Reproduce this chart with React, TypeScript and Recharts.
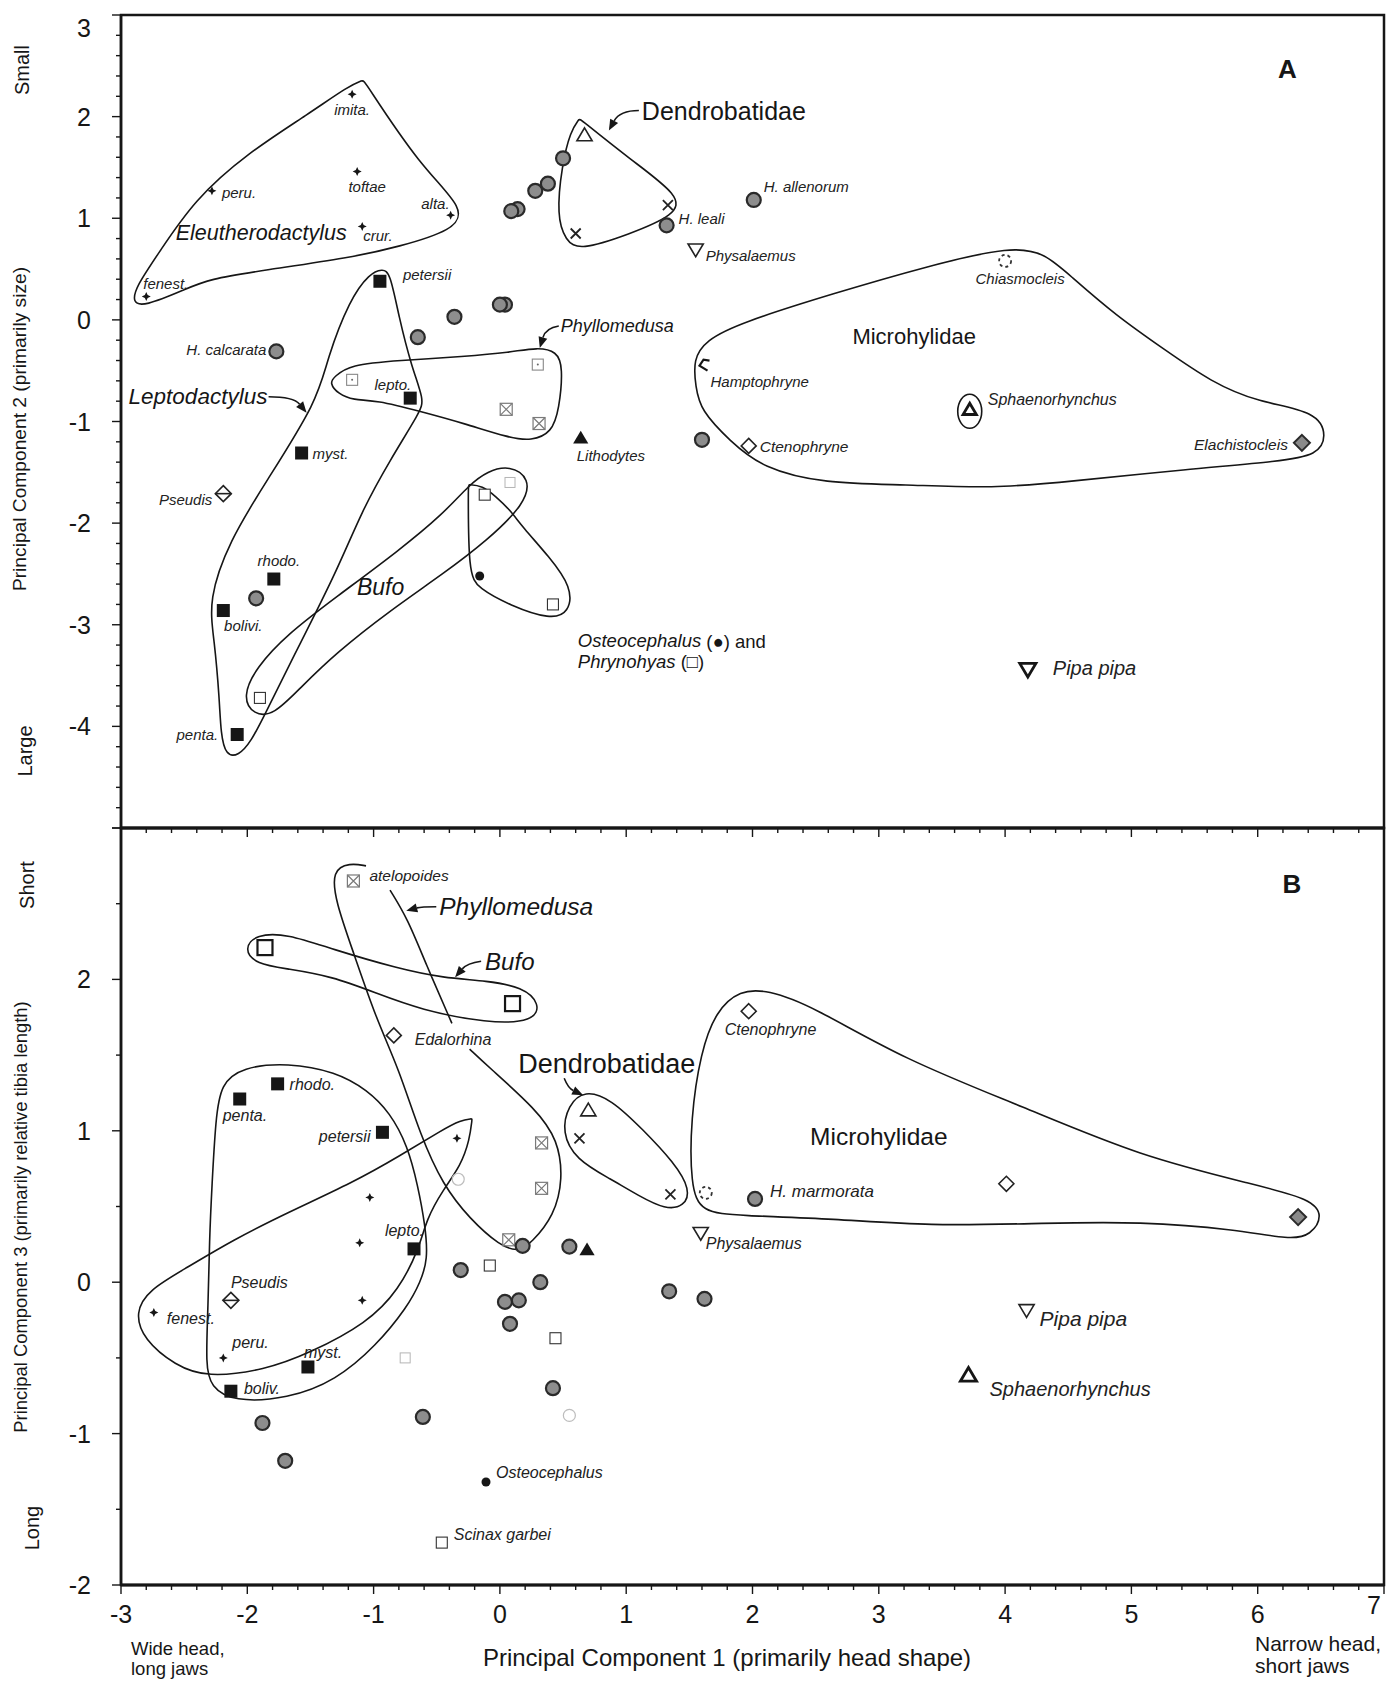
import React from 'react';
import { ScatterChart, Scatter, XAxis, YAxis, ReferenceArea } from 'recharts';

const FONT = '"Liberation Sans", Arial, Helvetica, sans-serif';
const INK = '#161616';

type P = { x: number; y: number; label?: string; kind?: string };
type Note = { x: number; y: number; text: string; tail?: string };
type Place = [number, number, 'start' | 'middle' | 'end', number];
type NoteStyle = [number, boolean, 'start' | 'middle' | 'end', boolean];

const pts = (rows: number[][]): P[] => rows.map(([x, y]) => ({ x, y }));

// ---------- panel A : PC1 vs PC2 ----------
const aEleuth: P[] = [
  { x: -1.17, y: 2.22, label: 'imita.' },
  { x: -2.28, y: 1.27, label: 'peru.' },
  { x: -1.13, y: 1.46, label: 'toftae' },
  { x: -0.39, y: 1.03, label: 'alta.' },
  { x: -1.09, y: 0.92, label: 'crur.' },
  { x: -2.8, y: 0.23, label: 'fenest.' },
];
const aHyla: P[] = [
  { x: 0.5, y: 1.59 }, { x: 0.38, y: 1.34 }, { x: 0.28, y: 1.27 }, { x: 0.14, y: 1.09 },
  { x: 0.09, y: 1.07 }, { x: 0.04, y: 0.15 }, { x: 0.0, y: 0.15 }, { x: -0.36, y: 0.03 },
  { x: -0.65, y: -0.17 }, { x: -1.77, y: -0.31, label: 'H. calcarata' },
  { x: 1.32, y: 0.93, label: 'H. leali' }, { x: 2.01, y: 1.18, label: 'H. allenorum' },
  { x: 1.6, y: -1.18 }, { x: -1.93, y: -2.74 },
];
const aLepto: P[] = [
  { x: -0.95, y: 0.38, label: 'petersii' }, { x: -0.71, y: -0.77, label: 'lepto.' },
  { x: -1.57, y: -1.31, label: 'myst.' }, { x: -1.79, y: -2.55, label: 'rhodo.' },
  { x: -2.19, y: -2.86, label: 'bolivi.' }, { x: -2.08, y: -4.08, label: 'penta.' },
];
const aPhylloX: P[] = [{ x: 0.05, y: -0.88 }, { x: 0.31, y: -1.02 }];
const aPhylloDot: P[] = [{ x: -1.17, y: -0.59 }, { x: 0.3, y: -0.44 }];
const aOpenSq: P[] = [{ x: -0.12, y: -1.72 }, { x: 0.42, y: -2.8 }, { x: -1.9, y: -3.72 }];
const aOsteo: P[] = [{ x: -0.16, y: -2.52 }];
const aDendroTri: P[] = [{ x: 0.67, y: 1.81 }];
const aDendroX: P[] = [{ x: 0.6, y: 0.85 }, { x: 1.33, y: 1.13 }];
const aOther: P[] = [
  { x: 0.08, y: -1.6, kind: 'faintSq' },
  { x: 1.55, y: 0.7, label: 'Physalaemus', kind: 'triDown' },
  { x: 4.0, y: 0.58, label: 'Chiasmocleis', kind: 'dashCircle' },
  { x: 1.62, y: -0.45, label: 'Hamptophryne', kind: 'bracket' },
  { x: 3.72, y: -0.89, label: 'Sphaenorhynchus', kind: 'triRing' },
  { x: 1.97, y: -1.24, label: 'Ctenophryne', kind: 'diamond' },
  { x: 6.35, y: -1.21, label: 'Elachistocleis', kind: 'diamondGray' },
  { x: 0.64, y: -1.17, label: 'Lithodytes', kind: 'triFill' },
  { x: -2.19, y: -1.71, label: 'Pseudis', kind: 'diamondLine' },
  { x: 4.18, y: -3.43, label: 'Pipa pipa', kind: 'triDownBold' },
];

const hullAEleuth = pts([[-1.08, 2.36], [-1.08, 2.36], [-0.63, 1.51], [-0.27, 1.09], [-0.37, 0.88], [-0.8, 0.72], [-1.19, 0.61], [-1.86, 0.49], [-2.31, 0.4], [-2.49, 0.3], [-2.82, 0.13], [-2.91, 0.17], [-2.88, 0.33], [-2.7, 0.66], [-2.42, 1.18], [-2.0, 1.64], [-1.51, 2.03], [-1.2, 2.3]]);
const hullADendro = pts([[0.63, 1.98], [0.63, 1.98], [1.03, 1.58], [1.43, 1.22], [1.39, 1.03], [1.02, 0.84], [0.63, 0.68], [0.52, 0.78], [0.45, 1.02], [0.49, 1.52], [0.56, 1.86]]);
const hullALepto = pts([[-0.93, 0.5], [-0.87, 0.47], [-0.8, 0.03], [-0.7, -0.46], [-0.6, -0.79], [-0.63, -0.9], [-0.87, -1.38], [-1.09, -1.87], [-1.3, -2.5], [-1.65, -3.35], [-1.86, -3.88], [-1.97, -4.15], [-2.07, -4.29], [-2.17, -4.29], [-2.21, -4.07], [-2.22, -3.74], [-2.26, -3.15], [-2.31, -2.76], [-2.14, -2.17], [-1.86, -1.61], [-1.44, -0.79], [-1.37, -0.39], [-1.19, 0.2], [-1.03, 0.46]]);
const hullAPhyllo = pts([[-1.31, -0.56], [-1.19, -0.44], [-0.8, -0.4], [-0.28, -0.36], [0.08, -0.32], [0.3, -0.27], [0.45, -0.31], [0.5, -0.46], [0.47, -0.88], [0.41, -1.11], [0.25, -1.19], [0.07, -1.16], [-0.28, -1.02], [-0.63, -0.9], [-0.98, -0.79], [-1.16, -0.79], [-1.28, -0.73], [-1.35, -0.62]]);
const hullABufo = pts([[0.08, -1.43], [0.24, -1.56], [0.2, -1.81], [-0.1, -2.17], [-0.45, -2.5], [-0.87, -2.86], [-1.3, -3.28], [-1.58, -3.62], [-1.79, -3.89], [-1.95, -3.89], [-2.04, -3.71], [-1.93, -3.42], [-1.68, -3.09], [-1.3, -2.73], [-0.8, -2.27], [-0.45, -1.91], [-0.24, -1.62], [-0.1, -1.49]]);
const hullAOsteo = pts([[-0.25, -1.62], [-0.25, -1.62], [-0.25, -2.5], [-0.17, -2.64], [0.08, -2.81], [0.4, -2.95], [0.55, -2.88], [0.57, -2.63], [0.39, -2.33], [0.18, -2.04], [0.08, -1.87], [-0.03, -1.74], [-0.14, -1.63]]);
const hullAMicro = pts([[4.06, 0.73], [3.39, 0.53], [2.64, 0.26], [1.9, -0.03], [1.63, -0.2], [1.53, -0.39], [1.55, -0.66], [1.59, -0.89], [1.82, -1.19], [2.08, -1.46], [2.57, -1.61], [3.2, -1.62], [3.91, -1.66], [4.51, -1.59], [5.44, -1.47], [6.19, -1.39], [6.47, -1.33], [6.55, -1.15], [6.47, -0.9], [6.0, -0.81], [5.63, -0.61], [5.26, -0.29], [4.88, 0.04], [4.51, 0.44], [4.32, 0.65]]);
const hullsA = [hullAEleuth, hullADendro, hullALepto, hullAPhyllo, hullABufo, hullAOsteo, hullAMicro];

const notesA: Note[] = [
  { x: 6.235, y: 2.47, text: 'A' },
  { x: -1.89, y: 0.85, text: 'Eleutherodactylus' },
  { x: 1.124, y: 2.06, text: 'Dendrobatidae' },
  { x: 0.482, y: -0.06, text: 'Phyllomedusa' },
  { x: 3.28, y: -0.165, text: 'Microhylidae' },
  { x: -2.94, y: -0.756, text: 'Leptodactylus' },
  { x: -0.945, y: -2.627, text: 'Bufo' },
  { x: 0.617, y: -3.155, text: 'Osteocephalus', tail: ' (\u25CF) and' },
  { x: 0.617, y: -3.36, text: 'Phrynohyas', tail: ' (\u25A1)' },
];

// ---------- panel B : PC1 vs PC3 ----------
const bEleuth: P[] = [
  { x: -0.34, y: 0.95 }, { x: -1.03, y: 0.56 }, { x: -1.11, y: 0.26 }, { x: -1.09, y: -0.12 },
  { x: -2.74, y: -0.2, label: 'fenest.' }, { x: -2.19, y: -0.5, label: 'peru.' },
];
const bHyla: P[] = [
  { x: 2.02, y: 0.55, label: 'H. marmorata' }, { x: 0.18, y: 0.24 }, { x: 0.55, y: 0.235 },
  { x: -0.31, y: 0.08 }, { x: 0.32, y: 0.0 }, { x: 0.04, y: -0.13 }, { x: 0.15, y: -0.12 },
  { x: 0.08, y: -0.275 }, { x: 0.42, y: -0.7 }, { x: -0.61, y: -0.89 }, { x: -1.88, y: -0.93 },
  { x: -1.7, y: -1.18 }, { x: 1.34, y: -0.06 }, { x: 1.62, y: -0.11 },
];
const bLepto: P[] = [
  { x: -1.76, y: 1.31, label: 'rhodo.' }, { x: -2.06, y: 1.21, label: 'penta.' },
  { x: -0.93, y: 0.99, label: 'petersii' }, { x: -0.68, y: 0.22, label: 'lepto.' },
  { x: -1.52, y: -0.56, label: 'myst.' }, { x: -2.13, y: -0.72, label: 'boliv.' },
];
const bPhylloX: P[] = [
  { x: -1.16, y: 2.65, label: 'atelopoides' }, { x: 0.33, y: 0.92 }, { x: 0.33, y: 0.62 }, { x: 0.07, y: 0.28 },
];
const bBufoSq: P[] = [{ x: -1.86, y: 2.21 }, { x: 0.1, y: 1.84 }];
const bOpenSq: P[] = [{ x: -0.08, y: 0.11 }, { x: 0.44, y: -0.37 }, { x: -0.46, y: -1.72, label: 'Scinax garbei' }];
const bOsteo: P[] = [{ x: -0.11, y: -1.32, label: 'Osteocephalus' }];
const bDendroTri: P[] = [{ x: 0.7, y: 1.13 }];
const bDendroX: P[] = [{ x: 0.63, y: 0.95 }, { x: 1.35, y: 0.58 }];
const bOther: P[] = [
  { x: -0.33, y: 0.68, kind: 'faintCircle' },
  { x: 0.55, y: -0.88, kind: 'faintCircle' },
  { x: -0.75, y: -0.5, kind: 'faintSq' },
  { x: -0.84, y: 1.63, label: 'Edalorhina', kind: 'diamond' },
  { x: 1.97, y: 1.79, label: 'Ctenophryne', kind: 'diamond' },
  { x: 4.01, y: 0.65, kind: 'diamond' },
  { x: 6.32, y: 0.43, kind: 'diamondGray' },
  { x: 1.63, y: 0.59, kind: 'dashCircle' },
  { x: 1.59, y: 0.33, label: 'Physalaemus', kind: 'triDown' },
  { x: 4.17, y: -0.18, label: 'Pipa pipa', kind: 'triDown' },
  { x: 3.71, y: -0.62, label: 'Sphaenorhynchus', kind: 'triBold' },
  { x: -2.13, y: -0.12, label: 'Pseudis', kind: 'diamondLine' },
  { x: 0.69, y: 0.21, kind: 'triFill' },
];

const hullBBufo = pts([[-1.93, 2.3], [-1.68, 2.3], [-1.33, 2.2], [-0.8, 2.07], [-0.45, 2.01], [-0.1, 1.99], [0.18, 1.95], [0.32, 1.84], [0.27, 1.72], [-0.1, 1.71], [-0.63, 1.8], [-0.98, 1.91], [-1.33, 2.02], [-1.68, 2.07], [-1.93, 2.1], [-2.03, 2.2]]);
const hullBDendro = pts([[0.67, 1.27], [0.88, 1.21], [1.13, 1.01], [1.38, 0.79], [1.51, 0.61], [1.46, 0.5], [1.31, 0.48], [1.1, 0.57], [0.88, 0.68], [0.6, 0.81], [0.49, 0.99], [0.54, 1.17]]);
const hullBMicro = pts([[1.9, 1.93], [2.12, 1.93], [2.46, 1.83], [3.2, 1.47], [4.14, 1.16], [5.07, 0.83], [6.0, 0.64], [6.42, 0.55], [6.52, 0.44], [6.42, 0.31], [6.26, 0.28], [5.82, 0.35], [5.07, 0.4], [4.32, 0.39], [3.39, 0.37], [2.64, 0.42], [1.9, 0.44], [1.59, 0.46], [1.51, 0.64], [1.51, 1.08], [1.59, 1.52], [1.71, 1.79]]);
const hullBLepto = pts([[-2.25, 1.08], [-2.21, 1.31], [-2.04, 1.42], [-1.68, 1.45], [-1.3, 1.39], [-1.05, 1.27], [-0.87, 1.12], [-0.73, 0.9], [-0.65, 0.64], [-0.59, 0.37], [-0.57, 0.15], [-0.63, 0.0], [-0.73, -0.16], [-0.98, -0.42], [-1.3, -0.65], [-1.68, -0.77], [-2.11, -0.79], [-2.29, -0.69], [-2.33, -0.55], [-2.31, -0.16], [-2.3, 0.28], [-2.28, 0.64]]);
const hullBEleuth = pts([[-0.22, 1.08], [-0.22, 1.08], [-0.24, 0.94], [-0.31, 0.77], [-0.45, 0.61], [-0.58, 0.42], [-0.64, 0.22], [-0.8, -0.05], [-1.05, -0.27], [-1.51, -0.47], [-1.86, -0.58], [-2.32, -0.63], [-2.57, -0.55], [-2.82, -0.38], [-2.89, -0.2], [-2.78, -0.05], [-2.49, 0.09], [-2.11, 0.28], [-1.68, 0.46], [-1.16, 0.66], [-0.8, 0.83], [-0.45, 1.01], [-0.31, 1.07]]);
const hullsB = [hullBBufo, hullBDendro, hullBMicro, hullBLepto, hullBEleuth];
// Phyllomedusa outline in B is open (label gaps)
const phylloBLeft = pts([[-1.06, 2.75], [-1.19, 2.77], [-1.33, 2.72], [-1.3, 2.51], [-1.16, 2.18], [-0.98, 1.74], [-0.8, 1.41], [-0.63, 0.97], [-0.45, 0.64], [-0.24, 0.42], [0.0, 0.24], [0.15, 0.2], [0.25, 0.26], [0.43, 0.44], [0.5, 0.68], [0.46, 0.94], [0.29, 1.14], [-0.1, 1.43], [-0.24, 1.54]]);
const phylloBRight = pts([[-0.38, 1.71], [-0.59, 2.11], [-0.73, 2.4], [-0.87, 2.59]]);

const notesB: Note[] = [
  { x: 6.27, y: 2.63, text: 'B' },
  { x: -0.48, y: 2.48, text: 'Phyllomedusa' },
  { x: -0.117, y: 2.12, text: 'Bufo' },
  { x: 0.145, y: 1.44, text: 'Dendrobatidae' },
  { x: 3.0, y: 0.965, text: 'Microhylidae' },
];

// axis ticks
const xTicks = Array.from({ length: 51 }, (_, i) => Math.round((-3 + i * 0.2) * 10) / 10);
const yTicksA = Array.from({ length: 41 }, (_, i) => Math.round((-5 + i * 0.2) * 10) / 10);
const yTicksB = Array.from({ length: 11 }, (_, i) => -2 + i * 0.5);
const yLabelsA = [-4, -3, -2, -1, 0, 1, 2, 3];
const yLabelsB = [-2, -1, 0, 1, 2];

// ---------- label placement (px offsets from the mark) ----------
const placeA: Record<string, Place> = {
  'imita.': [0, 15, 'middle', 15], 'peru.': [10, 2, 'start', 15], toftae: [10, 15, 'middle', 15],
  'alta.': [-1, -12, 'end', 15], 'crur.': [1, 9, 'start', 15], 'fenest.': [-3, -13, 'start', 15],
  petersii: [23, -7, 'start', 15], 'lepto.': [1, -14, 'end', 15], 'myst.': [11, 0, 'start', 15],
  Pseudis: [-11, 6, 'end', 15], 'rhodo.': [5, -19, 'middle', 15], 'bolivi.': [20, 15, 'middle', 15],
  'penta.': [-19, 0, 'end', 15], 'H. calcarata': [-10, -2, 'end', 15], 'H. leali': [12, -7, 'start', 15],
  'H. allenorum': [10, -13, 'start', 15], Physalaemus: [10, 7, 'start', 15], Chiasmocleis: [15, 18, 'middle', 15],
  Hamptophryne: [6, 16, 'start', 15], Sphaenorhynchus: [18, -11, 'start', 16], Ctenophryne: [11, 1, 'start', 15.5],
  Elachistocleis: [-14, 2, 'end', 15.5], Lithodytes: [-4, 17, 'start', 15], 'Pipa pipa': [25, 0, 'start', 20],
};
const placeB: Record<string, Place> = {
  atelopoides: [16, -5, 'start', 15.5], Edalorhina: [21, 4, 'start', 16], 'rhodo.': [12, 1, 'start', 16],
  'penta.': [-17, 16, 'start', 16], petersii: [-12, 4, 'end', 16], 'lepto.': [10, -18, 'end', 16],
  Pseudis: [0, -18, 'start', 16], 'fenest.': [13, 6, 'start', 16], 'peru.': [9, -15, 'start', 16],
  'myst.': [-4, -14, 'start', 16], 'boliv.': [13, -3, 'start', 16], Ctenophryne: [-24, 18, 'start', 16],
  'H. marmorata': [15, -7, 'start', 17], Physalaemus: [5, 11, 'start', 16], 'Pipa pipa': [13, 9, 'start', 21],
  Sphaenorhynchus: [21, 13, 'start', 20], Osteocephalus: [10, -10, 'start', 16], 'Scinax garbei': [12, -8, 'start', 16],
};

// group label styles: [fontSize, italic, anchor, bold]
const noteStyleA: Record<string, NoteStyle> = {
  A: [26, false, 'middle', true],
  Eleutherodactylus: [21.5, true, 'middle', false], Dendrobatidae: [25, false, 'start', false],
  Phyllomedusa: [18, true, 'start', false], Microhylidae: [22, false, 'middle', false],
  Leptodactylus: [22.5, true, 'start', false], Bufo: [23, true, 'middle', false],
  Osteocephalus: [18.5, true, 'start', false], Phrynohyas: [18.5, true, 'start', false],
};
const noteStyleB: Record<string, NoteStyle> = {
  B: [26, false, 'middle', true],
  Dendrobatidae: [27, false, 'start', false], Phyllomedusa: [24.5, true, 'start', false],
  Microhylidae: [24.5, false, 'middle', false], Bufo: [24, true, 'start', false],
};
// arrows: start, control, tip (px from the label anchor)
const arrowsA: Record<string, number[]> = {
  Dendrobatidae: [-3, 0, -22, 0, -33, 20],
  Phyllomedusa: [-2, 0, -15, 2, -21, 22],
  Leptodactylus: [140, 0, 165, 0, 178, 16],
};
const arrowsB: Record<string, number[]> = {
  Phyllomedusa: [-3, 0, -18, 0, -33, 4],
  Bufo: [-4, 0, -18, 2, -30, 16],
  Dendrobatidae: [46, 14, 50, 24, 65, 31],
};

function Mark({ kind, cx, cy }: { kind: string; cx: number; cy: number }) {
  const tri = (s: number, up: boolean) =>
    up
      ? `M${cx},${cy - s} L${cx + s * 0.95},${cy + s * 0.6} L${cx - s * 0.95},${cy + s * 0.6} Z`
      : `M${cx},${cy + s} L${cx + s * 0.95},${cy - s * 0.6} L${cx - s * 0.95},${cy - s * 0.6} Z`;
  const dia = (s: number) => `M${cx},${cy - s} L${cx + s},${cy} L${cx},${cy + s} L${cx - s},${cy} Z`;
  switch (kind) {
    case 'star':
      return (
        <path
          d={`M${cx},${cy - 4.5} L${cx + 1.4},${cy - 1.4} L${cx + 4.5},${cy} L${cx + 1.4},${cy + 1.4} L${cx},${cy + 4.5} L${cx - 1.4},${cy + 1.4} L${cx - 4.5},${cy} L${cx - 1.4},${cy - 1.4} Z`}
          fill={INK}
        />
      );
    case 'hyla':
      return <circle cx={cx} cy={cy} r={7} fill="#8d8d8d" stroke="#2a2a2a" strokeWidth={2.2} />;
    case 'lepto':
      return <rect x={cx - 6.5} y={cy - 6.5} width={13} height={13} fill={INK} />;
    case 'boxX':
      return (
        <g stroke="#7a7a7a" strokeWidth={1.2} fill="none">
          <rect x={cx - 6} y={cy - 6} width={12} height={12} />
          <path d={`M${cx - 6},${cy - 6} L${cx + 6},${cy + 6} M${cx + 6},${cy - 6} L${cx - 6},${cy + 6}`} />
        </g>
      );
    case 'boxDot':
      return (
        <g>
          <rect x={cx - 5.5} y={cy - 5.5} width={11} height={11} fill="none" stroke="#888" strokeWidth={1.1} />
          <circle cx={cx} cy={cy} r={1} fill="#666" />
        </g>
      );
    case 'openSq':
      return <rect x={cx - 5.5} y={cy - 5.5} width={11} height={11} fill="#fff" stroke="#333" strokeWidth={1.1} />;
    case 'bufoSq':
      return <rect x={cx - 7.5} y={cy - 7.5} width={15} height={15} fill="#fff" stroke={INK} strokeWidth={2.2} />;
    case 'faintSq':
      return <rect x={cx - 5} y={cy - 5} width={10} height={10} fill="none" stroke="#b5b5b5" strokeWidth={1} />;
    case 'faintCircle':
      return <circle cx={cx} cy={cy} r={6} fill="none" stroke="#bdbdbd" strokeWidth={1.2} />;
    case 'tri':
      return <path d={tri(8, true)} fill="#fff" stroke="#222" strokeWidth={1.6} />;
    case 'triBold':
      return <path d={tri(8.5, true)} fill="#fff" stroke={INK} strokeWidth={2.8} />;
    case 'triRing':
      return (
        <g>
          <ellipse cx={cx} cy={cy + 1} rx={12} ry={17} fill="none" stroke={INK} strokeWidth={1.6} />
          <path d={tri(7, true)} fill="#fff" stroke={INK} strokeWidth={2.8} />
        </g>
      );
    case 'triDown':
      return <path d={tri(8, false)} fill="#fff" stroke="#222" strokeWidth={1.6} />;
    case 'triDownBold':
      return <path d={tri(8.5, false)} fill="#fff" stroke={INK} strokeWidth={2.8} />;
    case 'triFill':
      return <path d={tri(8, true)} fill={INK} />;
    case 'x':
      return (
        <path
          d={`M${cx - 5},${cy - 5} L${cx + 5},${cy + 5} M${cx + 5},${cy - 5} L${cx - 5},${cy + 5}`}
          stroke="#222"
          strokeWidth={1.8}
        />
      );
    case 'diamond':
      return <path d={dia(7.5)} fill="#fff" stroke="#222" strokeWidth={1.6} />;
    case 'diamondGray':
      return <path d={dia(8)} fill="#8a8a8a" stroke="#2a2a2a" strokeWidth={2} />;
    case 'diamondLine':
      return (
        <g stroke="#222" strokeWidth={1.6}>
          <path d={dia(8)} fill="#fff" />
          <path d={`M${cx - 8},${cy} L${cx + 8},${cy}`} />
        </g>
      );
    case 'dashCircle':
      return <circle cx={cx} cy={cy} r={6} fill="none" stroke="#333" strokeWidth={1.8} strokeDasharray="3 3" />;
    case 'bracket':
      return (
        <path
          d={`M${cx + 5},${cy - 5} L${cx - 1},${cy - 6} L${cx - 5},${cy} L${cx + 3},${cy + 5}`}
          fill="none"
          stroke={INK}
          strokeWidth={2.2}
        />
      );
    case 'dot':
      return <circle cx={cx} cy={cy} r={4.5} fill={INK} />;
    default:
      return <g />;
  }
}

const markShape = (kind: string, place: Record<string, Place>) => (props: any) => {
  const { cx, cy, payload } = props;
  const lab: string | undefined = payload?.label;
  const pl = lab ? place[lab] : undefined;
  return (
    <g>
      <Mark kind={payload?.kind ?? kind} cx={cx} cy={cy} />
      {lab && pl && (
        <text
          x={cx + pl[0]}
          y={cy + pl[1]}
          textAnchor={pl[2]}
          dominantBaseline="central"
          fontSize={pl[3]}
          fontStyle="italic"
          fontFamily={FONT}
          fill="#222"
        >
          {lab}
        </text>
      )}
    </g>
  );
};

const noteShape = (styles: Record<string, NoteStyle>, arrows: Record<string, number[]>) => (props: any) => {
  const { cx, cy, payload } = props;
  const st = styles[payload.text] ?? [18, false, 'start', false];
  const a = arrows[payload.text];
  let arrow = null;
  if (a) {
    const [sx, sy, qx, qy, tx, ty] = a;
    const dx = tx - qx;
    const dy = ty - qy;
    const len = Math.hypot(dx, dy) || 1;
    const ux = dx / len;
    const uy = dy / len;
    const bx = cx + tx - ux * 11;
    const by = cy + ty - uy * 11;
    arrow = (
      <g>
        <path
          d={`M${cx + sx},${cy + sy} Q${cx + qx},${cy + qy} ${bx},${by}`}
          fill="none"
          stroke={INK}
          strokeWidth={1.6}
        />
        <path
          d={`M${cx + tx},${cy + ty} L${bx - uy * 4.5},${by + ux * 4.5} L${bx + uy * 4.5},${by - ux * 4.5} Z`}
          fill={INK}
        />
      </g>
    );
  }
  return (
    <g>
      <text
        x={cx}
        y={cy}
        fontSize={st[0]}
        fontStyle={st[1] ? 'italic' : 'normal'}
        fontWeight={st[3] ? 'bold' : 'normal'}
        textAnchor={st[2]}
        dominantBaseline="central"
        fontFamily={FONT}
        fill={INK}
      >
        {payload.text}
        {payload.tail && <tspan fontStyle="normal">{payload.tail}</tspan>}
      </text>
      {arrow}
    </g>
  );
};

const emptyShape = () => <g />;

const makeYTick = (labels: number[], topShift: number) => (p: any) => {
  const v = Math.round(p.payload.value * 10) / 10;
  const major = Number.isInteger(v);
  return (
    <g>
      <line x1={p.x} x2={p.x - (major ? 9 : 5)} y1={p.y} y2={p.y} stroke={INK} strokeWidth={1.4} />
      {labels.includes(v) && (
        <text
          x={p.x - 30}
          y={p.y + (v === 3 ? topShift : 0)}
          textAnchor="end"
          dominantBaseline="central"
          fontSize={25}
          fontFamily={FONT}
          fill={INK}
        >
          {v}
        </text>
      )}
    </g>
  );
};

const makeXTick = (withLabels: boolean) => (p: any) => {
  const v = Math.round(p.payload.value * 10) / 10;
  const major = Number.isInteger(v);
  return (
    <g>
      <line x1={p.x} x2={p.x} y1={p.y} y2={p.y + (major ? 9 : 5)} stroke={INK} strokeWidth={1.4} />
      {withLabels && major && (
        <text
          x={p.x + (v === 7 ? -10 : 0)}
          y={p.y + (v === 7 ? 20 : 29)}
          textAnchor="middle"
          dominantBaseline="central"
          fontSize={25}
          fontFamily={FONT}
          fill={INK}
        >
          {v}
        </text>
      )}
    </g>
  );
};

function Panel({
  width, height, margin, yDomain, yTicks, yLabels, topShift, xLabels, xHeight,
  hulls, openLines, series, notes, noteStyles, arrows, place,
}: {
  width: number; height: number; margin: any; yDomain: number[]; yTicks: number[]; yLabels: number[];
  topShift: number; xLabels: boolean; xHeight: number; hulls: P[][]; openLines: P[][];
  series: { data: P[]; kind: string }[]; notes: Note[]; noteStyles: Record<string, NoteStyle>;
  arrows: Record<string, number[]>; place: Record<string, Place>;
}) {
  return (
    <ScatterChart width={width} height={height} margin={margin}>
      <XAxis
        type="number"
        dataKey="x"
        domain={[-3, 7]}
        ticks={xTicks}
        interval={0}
        tickSize={0}
        tickMargin={0}
        tickLine={false}
        height={xHeight}
        axisLine={{ stroke: INK, strokeWidth: 3 }}
        tick={makeXTick(xLabels)}
      />
      <YAxis
        type="number"
        dataKey="y"
        domain={yDomain}
        ticks={yTicks}
        interval={0}
        tickSize={0}
        tickMargin={0}
        tickLine={false}
        width={121}
        axisLine={{ stroke: INK, strokeWidth: 2.5 }}
        tick={makeYTick(yLabels, topShift)}
      />
      <ReferenceArea
        x1={-3}
        x2={7}
        y1={yDomain[0]}
        y2={yDomain[1]}
        fill="none"
        fillOpacity={0}
        stroke={INK}
        strokeWidth={2.5}
      />
      {hulls.map((h, i) => (
        <Scatter
          key={'h' + i}
          data={h}
          fill="none"
          line={{ stroke: INK, strokeWidth: 1.6, fill: 'none' }}
          lineJointType="basisClosed"
          shape={emptyShape}
          isAnimationActive={false}
        />
      ))}
      {openLines.map((h, i) => (
        <Scatter
          key={'o' + i}
          data={h}
          fill="none"
          line={{ stroke: INK, strokeWidth: 1.6, fill: 'none' }}
          lineJointType="basis"
          shape={emptyShape}
          isAnimationActive={false}
        />
      ))}
      {series.map((s, i) => (
        <Scatter key={'s' + i} data={s.data} shape={markShape(s.kind, place)} isAnimationActive={false} />
      ))}
      <Scatter data={notes} shape={noteShape(noteStyles, arrows)} isAnimationActive={false} />
    </ScatterChart>
  );
}

export default function App() {
  const seriesA = [
    { data: aPhylloX, kind: 'boxX' },
    { data: aPhylloDot, kind: 'boxDot' },
    { data: aOpenSq, kind: 'openSq' },
    { data: aOsteo, kind: 'dot' },
    { data: aHyla, kind: 'hyla' },
    { data: aLepto, kind: 'lepto' },
    { data: aEleuth, kind: 'star' },
    { data: aDendroTri, kind: 'tri' },
    { data: aDendroX, kind: 'x' },
    { data: aOther, kind: '' },
  ];
  const seriesB = [
    { data: bPhylloX, kind: 'boxX' },
    { data: bOpenSq, kind: 'openSq' },
    { data: bBufoSq, kind: 'bufoSq' },
    { data: bOsteo, kind: 'dot' },
    { data: bHyla, kind: 'hyla' },
    { data: bLepto, kind: 'lepto' },
    { data: bEleuth, kind: 'star' },
    { data: bDendroTri, kind: 'tri' },
    { data: bDendroX, kind: 'x' },
    { data: bOther, kind: '' },
  ];
  const txt = { fontFamily: FONT, fill: INK } as const;
  return (
    <div style={{ position: 'absolute', left: 0, top: 0, width: 1393, height: 1681, background: '#fff', overflow: 'hidden' }}>
      <div style={{ position: 'absolute', left: 0, top: 0 }}>
        <Panel
          width={1393}
          height={850}
          margin={{ top: 15, right: 9, bottom: 0, left: 0 }}
          yDomain={[-5, 3]}
          yTicks={yTicksA}
          yLabels={yLabelsA}
          topShift={13}
          xLabels={false}
          xHeight={22}
          hulls={hullsA}
          openLines={[]}
          series={seriesA}
          notes={notesA}
          noteStyles={noteStyleA}
          arrows={arrowsA}
          place={placeA}
        />
      </div>
      <div style={{ position: 'absolute', left: 0, top: 800 }}>
        <Panel
          width={1393}
          height={881}
          margin={{ top: 28, right: 9, bottom: 0, left: 0 }}
          yDomain={[-2, 3]}
          yTicks={yTicksB}
          yLabels={yLabelsB}
          topShift={0}
          xLabels={true}
          xHeight={96}
          hulls={hullsB}
          openLines={[phylloBLeft, phylloBRight]}
          series={seriesB}
          notes={notesB}
          noteStyles={noteStyleB}
          arrows={arrowsB}
          place={placeB}
        />
      </div>
      <svg width={1393} height={1681} style={{ position: 'absolute', left: 0, top: 0, pointerEvents: 'none' }}>
        <text {...txt} fontSize={19.2} textAnchor="middle" dominantBaseline="central" transform="translate(19,429) rotate(-90)">
          Principal Component 2 (primarily size)
        </text>
        <text {...txt} fontSize={20} textAnchor="middle" dominantBaseline="central" transform="translate(22,70) rotate(-90)">
          Small
        </text>
        <text {...txt} fontSize={20} textAnchor="middle" dominantBaseline="central" transform="translate(25,751) rotate(-90)">
          Large
        </text>
        <text {...txt} fontSize={18.4} textAnchor="middle" dominantBaseline="central" transform="translate(20,1217) rotate(-90)">
          Principal Component 3 (primarily relative tibia length)
        </text>
        <text {...txt} fontSize={20} textAnchor="middle" dominantBaseline="central" transform="translate(27,885) rotate(-90)">
          Short
        </text>
        <text {...txt} fontSize={20} textAnchor="middle" dominantBaseline="central" transform="translate(32,1528) rotate(-90)">
          Long
        </text>
        <text {...txt} fontSize={24} textAnchor="middle" dominantBaseline="central" x={727} y={1657}>
          Principal Component 1 (primarily head shape)
        </text>
        <text {...txt} fontSize={18.5} dominantBaseline="central" x={131} y={1648}>Wide head,</text>
        <text {...txt} fontSize={18.5} dominantBaseline="central" x={131} y={1668}>long jaws</text>
        <text {...txt} fontSize={21} dominantBaseline="central" x={1255} y={1643}>Narrow head,</text>
        <text {...txt} fontSize={21} dominantBaseline="central" x={1255} y={1665}>short jaws</text>
      </svg>
    </div>
  );
}
